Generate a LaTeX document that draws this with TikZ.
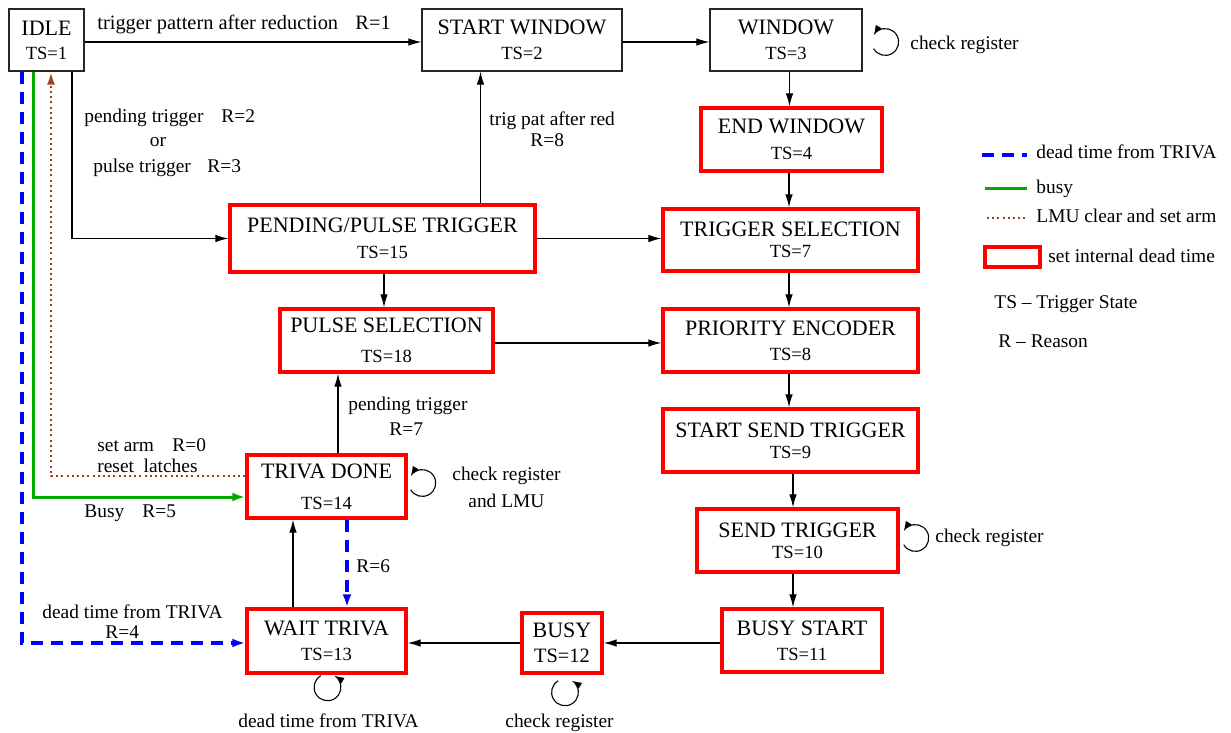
\documentclass[tikz,border=0pt]{standalone}
\usepackage{fontspec}
\setmainfont{Liberation Serif}
\usetikzlibrary{arrows.meta,calc}

\definecolor{dtblue}{RGB}{0,0,255}
\definecolor{busygreen}{RGB}{0,170,0}
\definecolor{lmubrown}{RGB}{150,70,30}
\definecolor{boxred}{RGB}{255,0,0}

% second line of a state box (trigger state number)
\newcommand\tsline[1]{{\fontsize{9.3}{10.5}\selectfont #1}}

\tikzset{
  state/.style={draw=black!85, line width=0.65pt, inner sep=0pt, align=center,
    font=\fontsize{11}{10.5}\selectfont},
  deadstate/.style={state, draw=boxred, line width=1.7pt},
  lbl/.style={inner sep=0pt, anchor=base west, font=\fontsize{9.7}{11}\selectfont},
  arr/.style={line width=0.55pt, -{Latex[length=6.5pt,width=3.8pt]}},
  looparr/.style={line width=0.55pt, -{Latex[length=5pt,width=3.4pt]}},
  deadline/.style={draw=dtblue, line width=1.6pt, dash pattern=on 6pt off 4pt},
  deadarr/.style={deadline, -{Latex[length=6.5pt,width=4.5pt]}},
  busyline/.style={draw=busygreen, line width=1.5pt},
  busyarr/.style={busyline, -{Latex[length=6.5pt,width=4.5pt]}},
  lmuline/.style={draw=lmubrown, line width=1.3pt, dash pattern=on 1pt off 1.6pt},
  lmuarr/.style={lmuline, -{Latex[length=6.5pt,width=4pt]}},
}

\begin{document}
\begin{tikzpicture}[x=0.5pt, y=-0.5pt]
\useasboundingbox (0,0) rectangle (1231,733);

% ---------- states ----------
\node[state, minimum width=37.5pt, minimum height=31pt] (idle) at (46.5,40)
  {IDLE\\[1.5pt]\tsline{TS=1}};
\node[state, minimum width=100pt, minimum height=31pt] (startw) at (522,40)
  {START WINDOW\\[2pt]\tsline{TS=2}};
\node[state, minimum width=76pt, minimum height=31pt] (window) at (786,40)
  {WINDOW\\[2pt]\tsline{TS=3}};
\node[deadstate, minimum width=90.5pt, minimum height=31.5pt] (endw) at (791.5,139.5)
  {END WINDOW\\[2.5pt]\tsline{TS=4}};
\node[deadstate, minimum width=127.5pt, minimum height=31pt] (trigsel) at (790.5,240)
  {TRIGGER SELECTION\\\tsline{TS=7}};
\node[deadstate, minimum width=127.5pt, minimum height=31.5pt] (prio) at (790.5,340.5)
  {PRIORITY ENCODER\\[2pt]\tsline{TS=8}};
\node[deadstate, minimum width=127.5pt, minimum height=31.5pt] (startsend) at (790.5,440.5)
  {START SEND TRIGGER\\\tsline{TS=9}};
\node[deadstate, minimum width=100.5pt, minimum height=31.5pt] (send) at (797.5,540.5)
  {SEND TRIGGER\\\tsline{TS=10}};
\node[deadstate, minimum width=80pt, minimum height=31.5pt] (busystart) at (802,640.5)
  {BUSY START\\[2pt]\tsline{TS=11}};
\node[deadstate, minimum width=40pt, minimum height=30pt] (busy) at (562,643)
  {BUSY\\[2pt]{\fontsize{10.2}{10.5}\selectfont TS=12}};
\node[deadstate, minimum width=79.5pt, minimum height=32pt] (wait) at (326.5,641)
  {WAIT TRIVA\\[2pt]\tsline{TS=13}};
\node[deadstate, minimum width=79.5pt, minimum height=31.5pt] (trivadone) at (326.5,486.5)
  {TRIVA DONE\\[5pt]\tsline{TS=14}};
\node[deadstate, minimum width=106.5pt, minimum height=31.5pt] (pulsesel) at (386.5,340.5)
  {PULSE SELECTION\\[4.5pt]\tsline{TS=18}};
\node[deadstate, minimum width=152.5pt, minimum height=33.5pt] (pending) at (382.5,238.5)
  {PENDING/PULSE TRIGGER\\[2.5pt]\tsline{TS=15}};

% ---------- transitions ----------
\draw[arr] ([yshift=-1pt]idle.east) -- ([yshift=-1pt]startw.west);
\draw[arr] ([yshift=-1pt]startw.east) -- ([yshift=-1pt]window.west);
\draw[arr] ([xshift=1.75pt]window.south) -- ([xshift=-1pt]endw.north);
\draw[arr] ([xshift=-1.25pt]endw.south) -- ([xshift=-0.75pt]trigsel.north);
\draw[arr] ([xshift=-0.75pt]trigsel.south) -- ([xshift=-0.75pt]prio.north);
\draw[arr] ([xshift=-0.75pt]prio.south) -- ([xshift=-0.75pt]startsend.north);
\draw[arr] ([xshift=1.25pt]startsend.south) -- ([xshift=-2.25pt]send.north);
\draw[arr] ([xshift=-2.25pt]send.south) -- ([xshift=-4.5pt]busystart.north);
\draw[arr] ([yshift=-1.25pt]busystart.west) -- (busy.east);
\draw[arr] (busy.west) -- ([yshift=-1pt]wait.east);
\draw[arr] ([xshift=-16.75pt]wait.north) -- ([xshift=-16.75pt]trivadone.south);
\draw[deadarr] ([xshift=10.25pt]trivadone.south) -- ([xshift=10.25pt]wait.north);
\draw[arr] ([xshift=5.75pt]trivadone.north) -- ([xshift=-24.25pt]pulsesel.south);
\draw[arr] ([xshift=0.75pt]pending.south) -- ([xshift=-1.25pt]pulsesel.north);
\draw[arr] ([xshift=49pt]pending.north) -- ([xshift=-20.75pt]startw.south);
\draw[arr] (pending.east) -- (pending.east -| trigsel.west);
\draw[arr] ([yshift=-1.25pt]pulsesel.east) -- ([yshift=-1.25pt]prio.west);
\draw[arr] ([xshift=12.75pt]idle.south) |- (pending.west);
\draw[deadarr] ([xshift=-12.25pt]idle.south) |- ([yshift=-1pt]wait.west);
\draw[busyarr] ([xshift=-6.75pt]idle.south) |- ([yshift=-5.25pt]trivadone.west);
\draw[lmuarr] ([yshift=5.25pt]trivadone.west) -| ([xshift=2.25pt]idle.south);

% ---------- self loops ----------
\draw[looparr] ($(window.east)+(11.3pt,-1pt)$) ++(-150:6.7pt)
  arc[start angle=-150, end angle=150, radius=6.7pt];
\draw[looparr] ($(trivadone.east)+(7.3pt,1.75pt)$) ++(-150:6.7pt)
  arc[start angle=-150, end angle=150, radius=6.7pt];
\draw[looparr] ($(send.east)+(7.8pt,1.25pt)$) ++(-150:6.7pt)
  arc[start angle=-150, end angle=150, radius=6.7pt];
\draw[looparr] ($(wait.south)+(0.5pt,-6.3pt)$) ++(120:6.7pt)
  arc[start angle=120, end angle=420, radius=6.7pt];
\draw[looparr] ($(busy.south)+(1.5pt,-8.8pt)$) ++(120:6.7pt)
  arc[start angle=120, end angle=420, radius=6.7pt];

% ---------- transition labels ----------
\node[lbl, font=\fontsize{10.2}{11}\selectfont] (l1a) at (97,30) {trigger pattern after reduction};
\node[lbl, font=\fontsize{10.2}{11}\selectfont] (l1b) at (355,30) {R=1};
\node[lbl] (l2a) at (84,123) {pending trigger};
\node[lbl] (l2b) at (221,123) {R=2};
\node[lbl, anchor=base] (l2c) at (158,147) {or};
\node[lbl] (l3a) at (93,172) {pulse trigger};
\node[lbl] (l3b) at (207,172) {R=3};
\node[lbl] (l8a) at (489,126) {trig pat after red};
\node[lbl] (l8b) at (530,147) {R=8};
\node[lbl] (cw) at (910,50) {check register};
\node[lbl] (l7a) at (348,410) {pending trigger};
\node[lbl] (l7b) at (389,435) {R=7};
\node[lbl] (l0a) at (97,451) {set arm};
\node[lbl] (l0b) at (172,451) {R=0};
\node[lbl] (l0c) at (97,472) {reset\ \ latches};
\node[lbl] (l5a) at (84,517) {Busy};
\node[lbl] (l5b) at (142,517) {R=5};
\node[lbl] (l4a) at (42,618) {dead time from TRIVA};
\node[lbl] (l4b) at (105,638) {R=4};
\node[lbl] (l6) at (356,572) {R=6};
\node[lbl] (ct1) at (452,480) {check register};
\node[lbl] (ct2) at (468,507) {and LMU};
\node[lbl] (cwt) at (238,727) {dead time from TRIVA};
\node[lbl] (cb) at (505,727) {check register};
\node[lbl] (cs) at (935,542) {check register};

% ---------- legend ----------
\draw[deadline] (982,155) -- (1027,155);
\node[lbl] (lg1) at (1036,158) {dead time from TRIVA};
\draw[busyline] (985,188) -- (1027,188);
\node[lbl] (lg2) at (1036,193) {busy};
\draw[lmuline] (987,218) -- (1027,218);
\node[lbl] (lg3) at (1036,222) {LMU clear and set arm};
\draw[draw=boxred, line width=1.7pt] (985,247) rectangle (1040,267);
\node[lbl] (lg4) at (1048,262) {set internal dead time};
\node[lbl] (lg5) at (994,308) {TS -- Trigger State};
\node[lbl] (lg6) at (998,347) {R -- Reason};
\end{tikzpicture}
\end{document}
